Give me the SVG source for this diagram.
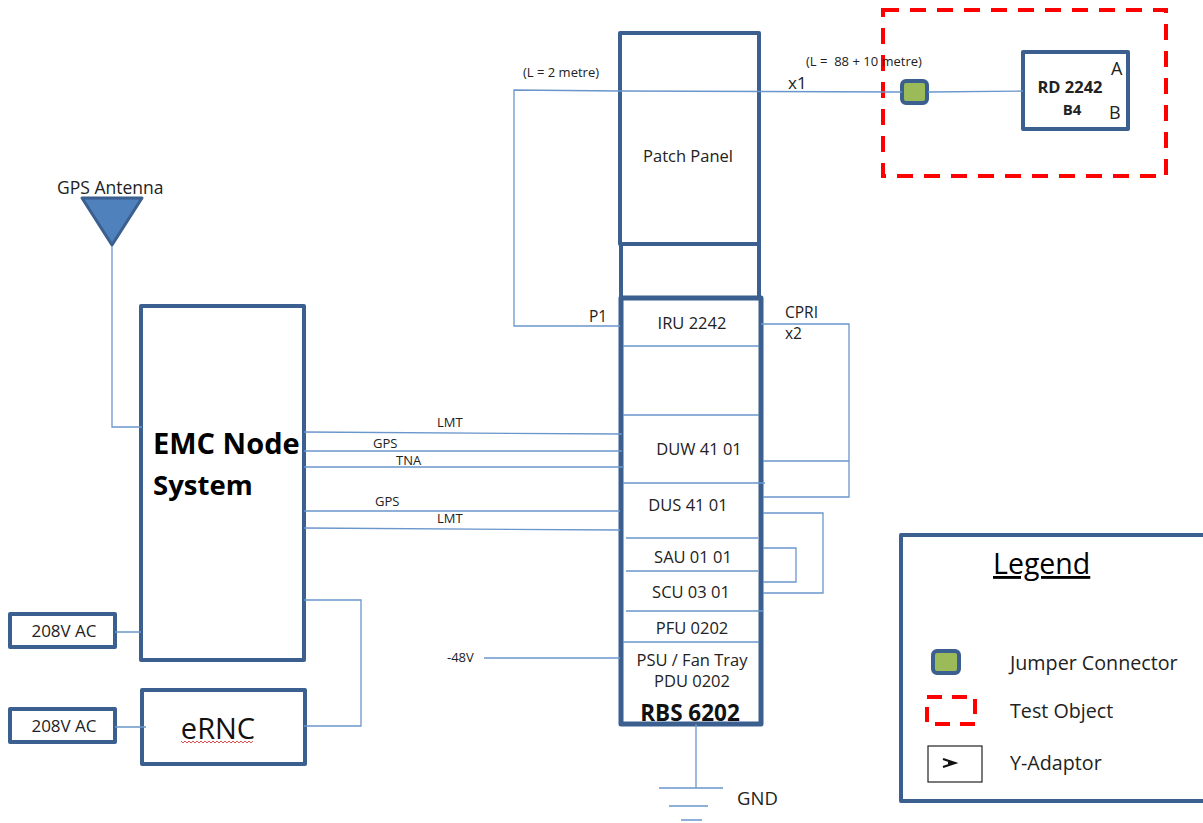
<svg xmlns="http://www.w3.org/2000/svg" width="1203" height="823" viewBox="0 0 1203 823">
<style>
text{font-family:"Open Sans","Liberation Sans",sans-serif;fill:#222}
.b{fill:#fff;stroke:#3b5f8f;stroke-width:4;stroke-linejoin:round}
.n{fill:none;stroke:#3b5f8f;stroke-width:4;stroke-linejoin:round}
.l{fill:none;stroke:#6a96cc;stroke-width:1.3}
.j{fill:#9bbb59;stroke:#3b5f8f;stroke-width:4}
.r{fill:none;stroke:#f00;stroke-width:4}
.s12{font-size:13px}.s15{font-size:15.5px}.s16{font-size:16.5px}
.m{text-anchor:middle}.h{font-weight:700}
</style>
<rect width="1203" height="823" fill="#fff"/>
<g id="patch-panel">
<rect class="b" x="620" y="33" width="139" height="211"/>
<text class="s16 m" x="688" y="162">Patch Panel</text>
</g>
<g id="spacer"><rect class="n" x="621" y="244" width="138" height="54"/></g>
<g id="rbs-6202">
<rect class="b" x="621" y="298" width="140" height="426" style="stroke-width:5"/>
<path class="l" d="M623 346H759M623 415H759M623 483H765M626 538H758M626 571H758M626 611H763M623 642H759"/>
<text class="s16 m" x="692" y="329">IRU 2242</text>
<text class="s16 m" x="699" y="455">DUW 41 01</text>
<text class="s16 m" x="688" y="511">DUS 41 01</text>
<text class="s16 m" x="693" y="563">SAU 01 01</text>
<text class="s16 m" x="691" y="598">SCU 03 01</text>
<text class="s16 m" x="692" y="634">PFU 0202</text>
<text class="s16 m" x="692" y="666">PSU / Fan Tray</text>
<text class="s16 m" x="692" y="687">PDU 0202</text>
<text class="m h" x="690" y="721" style="font-size:22.5px;fill:#111">RBS 6202</text>
</g>
<g id="test-object">
<rect class="r" x="883" y="10" width="283" height="166" stroke-dasharray="16 11"/>
</g>
<g id="jumper"><rect class="j" x="902" y="81" width="25" height="22" rx="4"/></g>
<g id="rd-2242">
<rect class="b" x="1023" y="52" width="105" height="77"/>
<text class="s16 m h" x="1070" y="93">RD 2242</text>
<text class="m h" x="1072" y="115" style="font-size:15px">B4</text>
<text x="1111" y="75" style="font-size:18px">A</text>
<text x="1109" y="119" style="font-size:18px">B</text>
</g>
<g id="gps-antenna">
<path d="M82 198H142L112 245Z" fill="#4f81bd" stroke="#3b5f8f" stroke-width="3" stroke-linejoin="round"/>
<text x="57" y="194" style="font-size:17.5px">GPS Antenna</text>
</g>
<g id="emc-node">
<rect class="b" x="141" y="306" width="163" height="354"/>
<text class="h" x="153" y="454" style="font-size:29px;fill:#000">EMC Node</text>
<text class="h" x="153" y="495" style="font-size:27.5px;fill:#000">System</text>
</g>
<g id="ac-1"><rect class="b" x="10" y="614" width="105" height="33"/><text class="m" x="64" y="637" style="font-size:17px">208V AC</text></g>
<g id="ac-2"><rect class="b" x="10" y="709" width="105" height="33"/><text class="m" x="64" y="732" style="font-size:17px">208V AC</text></g>
<g id="ernc">
<rect class="b" x="142" y="690" width="163" height="74"/>
<text class="m" x="218" y="739" style="font-size:29px;fill:#111">eRNC</text>
<path d="M181 741l2 2 2-2 2 2 2-2 2 2 2-2 2 2 2-2 2 2 2-2 2 2 2-2 2 2 2-2 2 2 2-2 2 2 2-2 2 2 2-2 2 2 2-2 2 2 2-2 2 2 2-2 2 2 2-2 2 2 2-2 2 2 2-2 2 2 2-2 2 2 2-2" fill="none" stroke="#e05050" stroke-width="1"/>
</g>
<g id="connectors">
<path class="l" d="M620 91L514 90V326H620"/>
<path class="l" d="M620 91L902 92M928 92L1023 91"/>
<path class="l" d="M112 246V427H142"/>
<path class="l" d="M304 432L622 434M304 451H622M304 467H624M304 511H620M304 528L620 530"/>
<path class="l" d="M484 658H620"/>
<path class="l" d="M761 324H849V497H763M763 461H849"/>
<path class="l" d="M763 513H823V593H763M763 548H796V582H763"/>
<path class="l" d="M304 600H361V726H304"/>
<path class="l" d="M115 632H141M115 727H146"/>
<path class="l" d="M696 724V788M659 788H723M669 806H708M681 820H702"/>
</g>
<g id="labels">
<text class="s12" x="523" y="77">(L = 2 metre)</text>
<text class="s12" x="806" y="66" xml:space="preserve">(L =  88 + 10 metre)</text>
<text x="788" y="89" style="font-size:17px">x1</text>
<text class="s15" x="589" y="322">P1</text>
<text class="s15" x="785" y="318">CPRI</text>
<text class="s15" x="785" y="339">x2</text>
<text class="s12" x="437" y="427">LMT</text>
<text class="s12" x="373" y="448">GPS</text>
<text class="s12" x="396" y="465">TNA</text>
<text class="s12" x="375" y="506">GPS</text>
<text class="s12" x="437" y="523">LMT</text>
<text class="s12" x="447" y="662">-48V</text>
<text x="737" y="805" style="font-size:18.5px">GND</text>
</g>
<g id="legend">
<rect class="b" x="901" y="535" width="310" height="266"/>
<text x="993" y="574" style="font-size:28.5px;fill:#000" text-decoration="underline">Legend</text>
<rect class="j" x="933" y="651" width="26" height="22" rx="4"/>
<rect class="r" x="927" y="697" width="48" height="27" stroke-dasharray="15 10"/>
<rect x="928" y="746" width="54" height="36" fill="#fff" stroke="#222" stroke-width="1.2"/>
<path d="M943 759L955 763L943 767M948 763H956" fill="none" stroke="#111" stroke-width="2.2"/>
<text x="1010" y="670" style="font-size:19.7px">Jumper Connector</text>
<text x="1010" y="718" style="font-size:19.7px">Test Object</text>
<text x="1010" y="770" style="font-size:19.7px">Y-Adaptor</text>
</g>
</svg>
